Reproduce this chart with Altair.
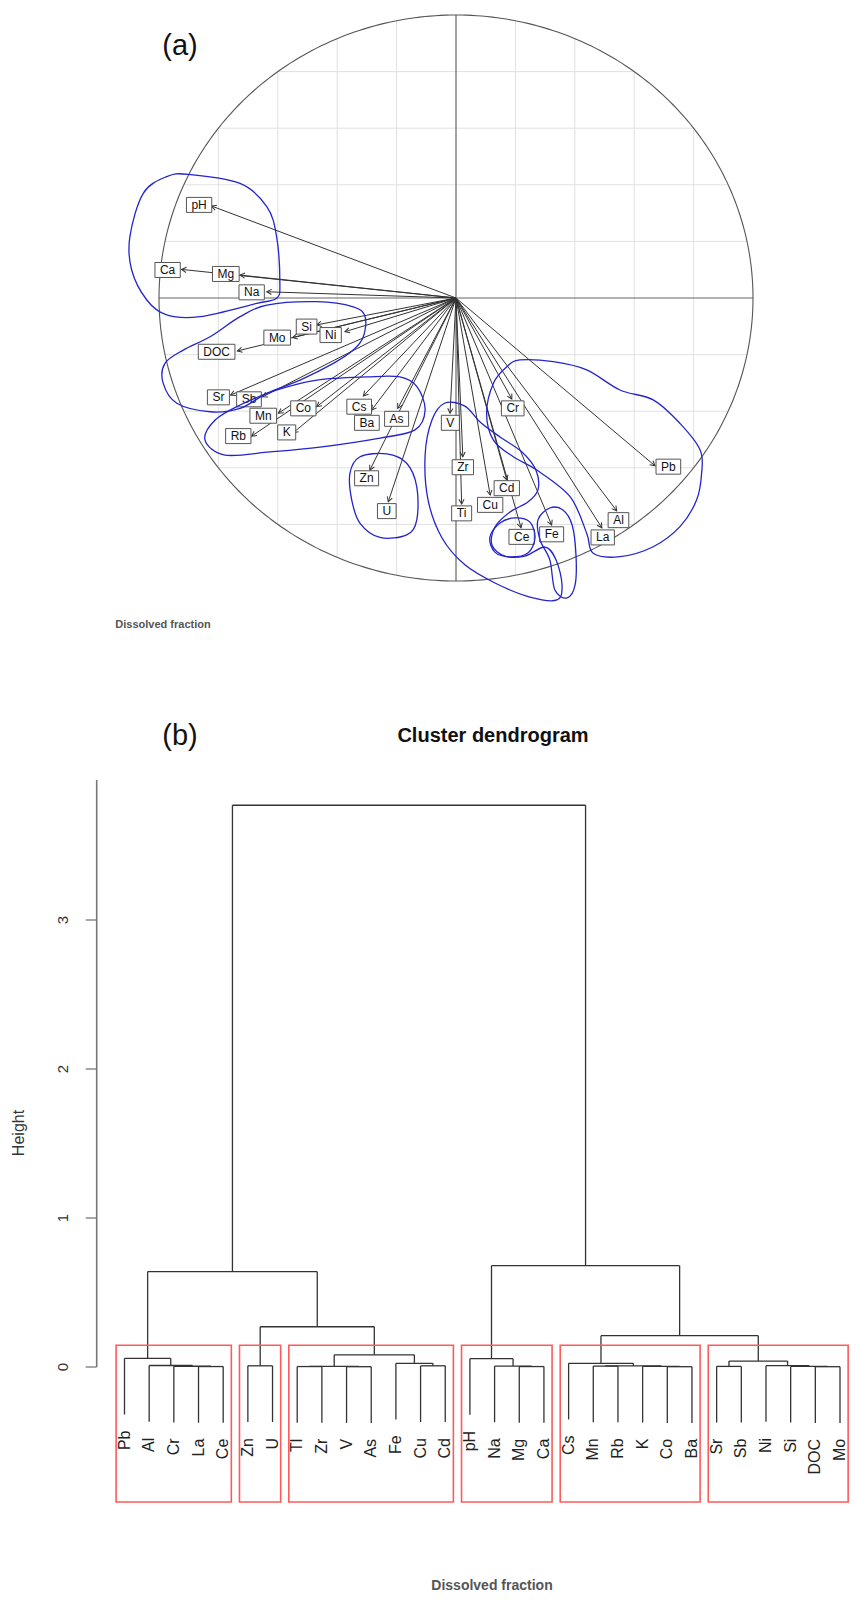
import altair as alt
import pandas as pd

FONT = "Liberation Sans"

# ---------------- Panel (a): correlation circle ----------------
var_names = ["pH", "Ca", "Mg", "Na", "Si", "Ni", "Mo", "DOC", "Sr", "Sb",
             "Mn", "Co", "Rb", "K", "Cs", "Ba", "As", "V", "Cr", "Zn",
             "U", "Zr", "Ti", "Cu", "Cd", "Ce", "Fe", "La", "Al", "Pb"]
dim1 = [-0.823, -0.924, -0.727, -0.637, -0.469, -0.374, -0.550, -0.736, -0.759, -0.651,
        -0.598, -0.469, -0.688, -0.548, -0.312, -0.284, -0.196, -0.020, 0.188, -0.290,
        -0.228, 0.023, 0.019, 0.115, 0.171, 0.219, 0.322, 0.491, 0.541, 0.670]
dim2 = [0.325, 0.101, 0.081, 0.022, -0.095, -0.119, -0.140, -0.187, -0.343, -0.349,
        -0.407, -0.384, -0.488, -0.476, -0.346, -0.396, -0.390, -0.407, -0.357, -0.608,
        -0.720, -0.561, -0.728, -0.696, -0.643, -0.812, -0.802, -0.812, -0.752, -0.593]
label_x = [-0.865, -0.971, -0.775, -0.688, -0.503, -0.422, -0.602, -0.806, -0.800, -0.697,
           -0.649, -0.514, -0.733, -0.570, -0.326, -0.300, -0.200, -0.019, 0.191, -0.301,
           -0.233, 0.023, 0.019, 0.115, 0.171, 0.221, 0.322, 0.494, 0.547, 0.715]
label_y = [0.329, 0.099, 0.085, 0.020, -0.101, -0.131, -0.140, -0.190, -0.351, -0.358,
           -0.416, -0.390, -0.488, -0.475, -0.384, -0.441, -0.427, -0.441, -0.390, -0.637,
           -0.753, -0.598, -0.761, -0.731, -0.672, -0.844, -0.835, -0.846, -0.785, -0.596]
grid_vals = [-0.8, -0.6, -0.4, -0.2, 0.2, 0.4, 0.6, 0.8]
axis_ends = [-1, 1]

# hand-drawn cluster outlines (blue), in circle units
hull1_x = [-0.901, -0.727, -0.637, -0.604, -0.593, -0.604, -0.671, -0.862, -0.974, -1.041, -1.092, -1.098, -1.053, -0.974]
hull1_y = [0.437, 0.405, 0.323, 0.217, 0.052, -0.001, -0.019, -0.066, -0.060, -0.007, 0.099, 0.217, 0.370, 0.429]
hull2_x = [-0.469, -0.346, -0.306, -0.312, -0.346, -0.413, -0.525, -0.637, -0.727, -0.828, -0.940, -0.986, -0.980, -0.918, -0.828, -0.727, -0.637]
hull2_y = [-0.013, -0.031, -0.066, -0.137, -0.184, -0.231, -0.290, -0.337, -0.390, -0.402, -0.372, -0.301, -0.231, -0.184, -0.137, -0.066, -0.025]
hull3_x = [-0.845, -0.811, -0.727, -0.603, -0.468, -0.300, -0.189, -0.131, -0.104, -0.138, -0.256, -0.458, -0.626, -0.778]
hull3_y = [-0.502, -0.431, -0.378, -0.325, -0.290, -0.279, -0.279, -0.314, -0.396, -0.466, -0.495, -0.527, -0.544, -0.555]
hull4_x = [-0.323, -0.233, -0.166, -0.132, -0.132, -0.166, -0.256, -0.323, -0.351, -0.357]
hull4_y = [-0.561, -0.551, -0.584, -0.667, -0.784, -0.837, -0.846, -0.796, -0.714, -0.619]
hull5_x = [-0.037, 0.030, 0.081, 0.148, 0.222, 0.269, 0.276, 0.242, 0.182, 0.131, 0.121, 0.165,
           0.232, 0.300, 0.337, 0.357, 0.340, 0.249, 0.131, 0.030, -0.047, -0.094, -0.104, -0.081]
hull5_y = [-0.371, -0.382, -0.438, -0.491, -0.544, -0.608, -0.678, -0.721, -0.756, -0.809, -0.873, -0.912,
           -0.912, -0.880, -0.926, -1.014, -1.067, -1.057, -1.007, -0.943, -0.848, -0.714, -0.555, -0.431]
hull6_x = [0.114, 0.148, 0.199, 0.249, 0.266, 0.242, 0.182, 0.131]
hull6_y = [-0.845, -0.795, -0.777, -0.792, -0.848, -0.901, -0.915, -0.898]
hull7_x = [0.276, 0.316, 0.360, 0.391, 0.404, 0.401, 0.374, 0.333, 0.316, 0.283]
hull7_y = [-0.784, -0.742, -0.749, -0.802, -0.908, -1.014, -1.060, -1.032, -0.926, -0.855]
hull8_x = [0.215, 0.328, 0.440, 0.552, 0.664, 0.754, 0.822, 0.827, 0.810, 0.754, 0.664, 0.552,
           0.462, 0.440, 0.384, 0.272, 0.193, 0.126, 0.103, 0.126, 0.171]
hull8_y = [-0.219, -0.225, -0.254, -0.325, -0.360, -0.443, -0.537, -0.619, -0.714, -0.808, -0.879, -0.914,
           -0.902, -0.831, -0.702, -0.608, -0.561, -0.502, -0.407, -0.301, -0.243]

# ---------------- Panel (b): dendrogram ----------------
leaves = ["Pb", "Al", "Cr", "La", "Ce", "Zn", "U", "Tl", "Zr", "V", "As", "Fe", "Cu", "Cd",
          "pH", "Na", "Mg", "Ca", "Cs", "Mn", "Rb", "K", "Co", "Ba", "Sr", "Sb", "Ni", "Si", "DOC", "Mo"]
merge_a = [-4, -3, -2, -1, -6, -8, -10, 6, -13, -12, 8, 5, 4, -17, -16, -15, -20, -23, -22, 17,
           -19, -25, -29, -28, -27, 22, 21, 16, 13]
merge_b = [-5, 1, 2, 3, -7, -9, -11, 7, -14, 9, 10, 11, 12, -18, 14, 15, -21, -24, 18, 19,
           20, -26, -30, 23, 24, 25, 26, 27, 28]
merge_h = [0.003, 0.005, 0.010, 0.058, 0.008, 0.003, 0.002, 0.004, 0.008, 0.025, 0.082, 0.27, 0.64,
           0.003, 0.006, 0.056, 0.006, 0.002, 0.004, 0.008, 0.025, 0.004, 0.002, 0.004, 0.009,
           0.04, 0.21, 0.68, 3.77]
cluster_first = [0, 5, 7, 14, 18, 24]
cluster_last = [4, 6, 13, 17, 23, 29]
y_ticks = [0, 1, 2, 3]
y_axis_top = 3.94
plot_bottom = -0.906

# ---------------- scales (layout) ----------------
BX_R = [151, 745]
BY_R = [573, 7]
DX_R = [116.5, 832.0]
DY_R = [1359, 912]
BX = alt.Scale(domain=[-1, 1], range=BX_R, nice=False, zero=False)
BY = alt.Scale(domain=[-1, 1], range=BY_R, nice=False, zero=False)
DX = alt.Scale(domain=[0, 29], range=DX_R, nice=False, zero=False)
DY = alt.Scale(domain=[0, 3], range=DY_R, nice=False, zero=False)
px_x = (BX_R[1] - BX_R[0]) / 2.0
px_y = (BY_R[0] - BY_R[1]) / 2.0
px_dy = (DY_R[0] - DY_R[1]) / 3.0

CW = {'A': .667, 'B': .667, 'C': .722, 'D': .722, 'F': .611, 'K': .667, 'L': .556, 'M': .833,
      'N': .722, 'O': .778, 'P': .667, 'R': .722, 'S': .667, 'T': .611, 'U': .722, 'V': .667,
      'Z': .611, 'H': .722, 'a': .556, 'b': .556, 'd': .556, 'e': .556, 'g': .556, 'h': .556,
      'i': .222, 'l': .222, 'n': .556, 'o': .556, 'r': .333, 's': .5, 'u': .556, 'm': .833, 'p': .556}


def X(f, s):
    return alt.X(f, scale=s, axis=None)


def Y(f, s):
    return alt.Y(f, scale=s, axis=None)


layers = []

# grid clipped to circle
gdf = pd.DataFrame({"v": grid_vals})
layers.append(alt.Chart(gdf).transform_calculate(
    e="sqrt(1-datum.v*datum.v)", ne="-sqrt(1-datum.v*datum.v)"
).mark_rule(color="#e0e0e0", strokeWidth=1).encode(
    x=X("v:Q", BX), y=Y("ne:Q", BY), y2="e:Q"))
layers.append(alt.Chart(gdf).transform_calculate(
    e="sqrt(1-datum.v*datum.v)", ne="-sqrt(1-datum.v*datum.v)"
).mark_rule(color="#e0e0e0", strokeWidth=1).encode(
    y=Y("v:Q", BY), x=X("ne:Q", BX), x2="e:Q"))

# axes through origin
adf = pd.DataFrame({"a": [axis_ends[0]], "b": [axis_ends[1]], "z": [0]})
layers.append(alt.Chart(adf).mark_rule(color="#666", strokeWidth=1.2).encode(
    x=X("a:Q", BX), x2="b:Q", y=Y("z:Q", BY)))
layers.append(alt.Chart(adf).mark_rule(color="#666", strokeWidth=1.2).encode(
    y=Y("a:Q", BY), y2="b:Q", x=X("z:Q", BX)))

# unit circle
layers.append(alt.Chart(alt.sequence(0, 361, 1, as_="t")).transform_calculate(
    cx="cos(datum.t*PI/180)", cy="sin(datum.t*PI/180)"
).mark_line(color="#555", strokeWidth=1.1).encode(
    x=X("cx:Q", BX), y=Y("cy:Q", BY), order="t:Q"))

vdf = pd.DataFrame({"name": var_names, "d1": dim1, "d2": dim2, "lx": label_x, "ly": label_y})
vdf["o"] = 0.0
vdf["hw"] = [(12 * sum(CW.get(c, 0.6) for c in s) + 10) / 2.0 / px_x for s in var_names]
vdf["x1"] = vdf["lx"] - vdf["hw"]
vdf["x2"] = vdf["lx"] + vdf["hw"]
vdf["y1"] = vdf["ly"] - 7.5 / px_y
vdf["y2"] = vdf["ly"] + 7.5 / px_y

layers.append(alt.Chart(vdf).mark_rule(color="#333", strokeWidth=1).encode(
    x=X("o:Q", BX), y=Y("o:Q", BY), x2="d1:Q", y2="d2:Q"))
layers.append(alt.Chart(vdf).transform_calculate(
    ang="(atan2(datum.d1*%f, datum.d2*%f)*180/PI + 360) %% 360" % (px_x, px_y)
).mark_point(shape="M-0.55,1L0,0L0.55,1", filled=False, size=90, color="#333",
             strokeWidth=1, opacity=1).encode(
    x=X("d1:Q", BX), y=Y("d2:Q", BY), angle=alt.Angle("ang:Q", scale=None)))
layers.append(alt.Chart(vdf).mark_rect(fill="white", stroke="#555", strokeWidth=1).encode(
    x=X("x1:Q", BX), x2="x2:Q", y=Y("y1:Q", BY), y2="y2:Q"))
layers.append(alt.Chart(vdf).mark_text(font=FONT, fontSize=12, color="#111").encode(
    x=X("lx:Q", BX), y=Y("ly:Q", BY), text="name:N"))

hulls = [(hull1_x, hull1_y), (hull2_x, hull2_y), (hull3_x, hull3_y), (hull4_x, hull4_y),
         (hull5_x, hull5_y), (hull6_x, hull6_y), (hull7_x, hull7_y), (hull8_x, hull8_y)]
hrows = []
for hid, (hx, hy) in enumerate(hulls):
    for k, (a, b) in enumerate(zip(hx, hy)):
        hrows.append({"hull": hid, "k": k, "hx": a, "hy": b})
hdf = pd.DataFrame(hrows)
layers.append(alt.Chart(hdf).mark_line(interpolate="cardinal-closed", color="#2424cc",
                                       strokeWidth=1.3).encode(
    x=X("hx:Q", BX), y=Y("hy:Q", BY), detail="hull:N", order="k:Q"))

# ---------------- dendrogram geometry from the merge table ----------------
hang = 0.1 * max(merge_h)
node = {}
segs = []
leaf_bottom = {}
for k, (a, b, h) in enumerate(zip(merge_a, merge_b, merge_h), start=1):
    kids = []
    for c in (a, b):
        if c < 0:
            i = -c - 1
            leaf_bottom[i] = h - hang
            kids.append((float(i), h - hang))
        else:
            kids.append(node[c])
    for (cx, ch) in kids:
        segs.append({"x": cx, "x2": cx, "y": ch, "y2": h})
    segs.append({"x": kids[0][0], "x2": kids[1][0], "y": h, "y2": h})
    node[k] = ((kids[0][0] + kids[1][0]) / 2.0, h)
sdf = pd.DataFrame(segs)
layers.append(alt.Chart(sdf).mark_rule(color="#333", strokeWidth=1.3, clip=True).encode(
    x=X("x:Q", DX), x2="x2:Q", y=Y("y:Q", DY), y2="y2:Q"))

hs = sorted(merge_h, reverse=True)
box_top = (hs[len(cluster_first) - 2] + hs[len(cluster_first) - 1]) / 2.0
bdf = pd.DataFrame({"l": [f - 0.34 for f in cluster_first],
                    "r": [l + 0.33 for l in cluster_last]})
bdf["t"] = box_top
bdf["b"] = plot_bottom
layers.append(alt.Chart(bdf).mark_rect(fillOpacity=0, fill="white", stroke="#ff5a5a",
                                       strokeWidth=1.6, clip=True).encode(
    x=X("l:Q", DX), x2="r:Q", y=Y("b:Q", DY), y2="t:Q"))

ldf = pd.DataFrame({"name": leaves, "i": list(range(len(leaves)))})
ldf["ly"] = [leaf_bottom[i] - 16.0 / px_dy for i in range(len(leaves))]
layers.append(alt.Chart(ldf).mark_text(font=FONT, fontSize=16, color="#222", angle=270,
                                       align="right", baseline="middle").encode(
    x=X("i:Q", DX), y=Y("ly:Q", DY), text="name:N"))

# y axis of dendrogram
yadf = pd.DataFrame({"a": [0], "b": [y_axis_top]})
layers.append(alt.Chart(yadf).mark_rule(color="#777", strokeWidth=1.6).encode(
    x=alt.value(88.7), y=Y("a:Q", DY), y2="b:Q"))
tdf = pd.DataFrame({"t": y_ticks, "lab": [str(t) for t in y_ticks]})
layers.append(alt.Chart(tdf).mark_rule(color="#777", strokeWidth=1.3).encode(
    x=alt.value(77.7), x2=alt.value(88.7), y=Y("t:Q", DY)))
layers.append(alt.Chart(tdf).mark_text(font=FONT, fontSize=15, color="#333", angle=270,
                                       align="center", baseline="middle").encode(
    x=alt.value(55), y=Y("t:Q", DY), text="lab:N"))

# ---------------- annotations ----------------
def note(txt, x, y, size, weight="normal", color="#111", angle=0):
    return alt.Chart(pd.DataFrame({"s": [txt]})).mark_text(
        font=FONT, fontSize=size, fontWeight=weight, color=color, angle=angle,
        align="center", baseline="middle").encode(
        x=alt.value(x), y=alt.value(y), text="s:N")

layers.append(note("(a)", 172, 38, 29))
layers.append(note("Dissolved fraction", 155, 617, 11, "bold", "#555"))
layers.append(note("(b)", 172, 728, 29))
layers.append(note("Cluster dendrogram", 485, 728, 20, "bold", "#111"))
layers.append(note("Height", 11, 1125, 16, "normal", "#333", 270))
layers.append(note("Dissolved fraction", 484, 1578, 14, "bold", "#555"))

chart = alt.layer(*layers).resolve_scale(x="independent", y="independent").properties(
    width=842, height=1590, padding=0,
    autosize=alt.AutoSizeParams(type="none")
).configure_view(stroke=None)

chart.save("out.html", embed_options={"renderer": "svg", "actions": False})
